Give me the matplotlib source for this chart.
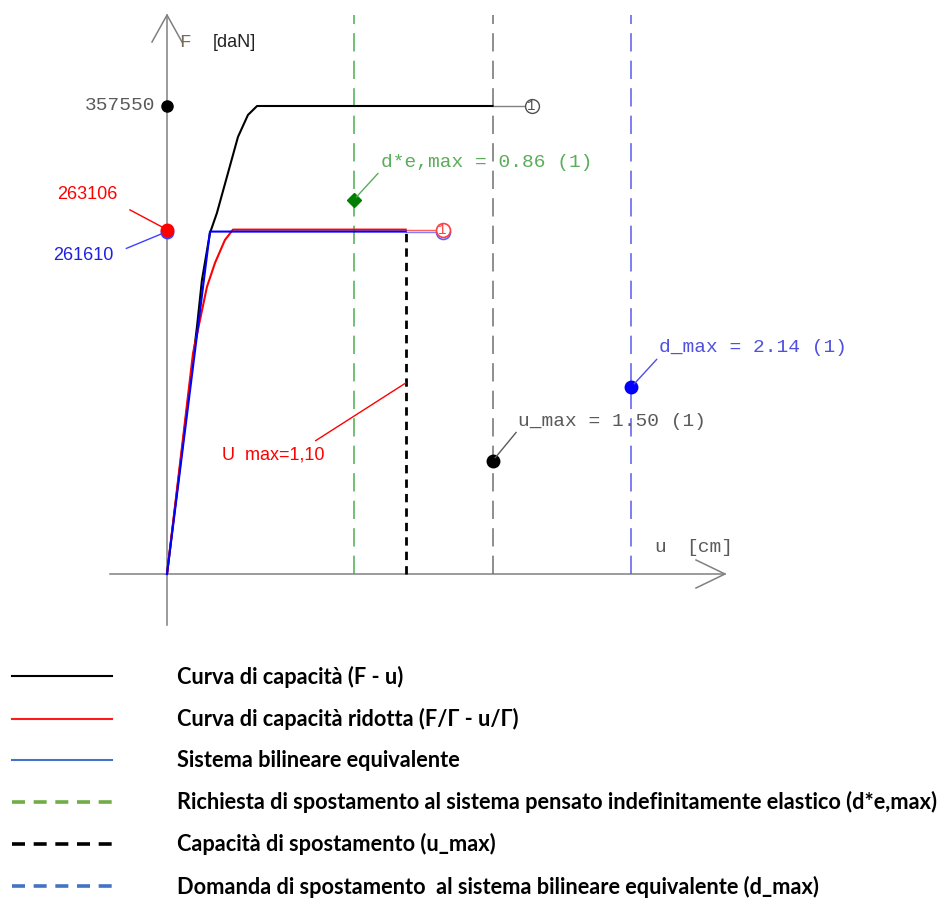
import matplotlib
matplotlib.use("Agg")
import matplotlib.pyplot as plt
from matplotlib.lines import Line2D

# capacity curve (F - u), daN vs cm
u_cap = [0, 0.138, 0.161, 0.198, 0.230, 0.327, 0.373, 0.415, 1.50]
F_cap = [0, 188700, 224600, 260500, 275800, 333900, 350700, 357550, 357550]
u_cap_end = 1.68

# reduced capacity curve (F/G - u/G)
u_red = [0, 0.120, 0.184, 0.221, 0.267, 0.304, 1.10]
F_red = [0, 168800, 219300, 237600, 255200, 263106, 263106]

# equivalent bilinear system
u_bil = [0, 0.198, 1.10]
F_bil = [0, 261610, 261610]
u_red_end = 1.27

# displacement values
d_e_max = 0.86
u_max = 1.50
d_max = 2.14
u_max_red = 1.10

# force values marked on the F axis
F_labels = [357550, 263106, 261610]

# points on the vertical lines
F_de_pt = 285700
F_umax_pt = 86300
F_dmax_pt = 142900
F_umax_red_pt = 145900

legend_labels = [
    "Curva di capacità (F - u)",
    "Curva di capacità ridotta (F/\u0393 - u/\u0393)",
    "Sistema bilineare equivalente",
    "Richiesta di spostamento al sistema pensato indefinitamente elastico (d*e,max)",
    "Capacità di spostamento (u_max)",
    "Domanda di spostamento  al sistema bilineare equivalente (d_max)",
]
legend_colors = ["black", "#ff1a1a", "#4472c4", "#70ad47", "black", "#4472c4"]
legend_styles = ["solid", "solid", "solid", "dashed", "dashed", "dashed"]

W, H = 949, 902
PLOT_H = 640
OX, OY = 167, 574           # origin in pixels
PX_U = 217.0                # pixels per cm
PX_F = 468.0 / 357550       # pixels per daN

MONO = "Liberation Mono"
SANS = "Liberation Sans"
GREY = "#5a5a5a"
GREEN_TXT = "#5aad5a"
BLUE_TXT = "#5050e0"

fig = plt.figure(figsize=(W / 100, H / 100), dpi=100)
ax = fig.add_axes([0, (H - PLOT_H) / H, 1, PLOT_H / H])
ax.set_xlim(-OX / PX_U, (W - OX) / PX_U)
ax.set_ylim(-(PLOT_H - OY) / PX_F, OY / PX_F)
ax.axis("off")

du = 1 / PX_U   # one pixel in u
dF = 1 / PX_F   # one pixel in F

# axes with arrows
ax_col = "#808080"
ax.plot([-57 * du, 558 * du], [0, 0], color=ax_col, lw=1.1)
ax.plot([0, 0], [-51 * dF, 559 * dF], color=ax_col, lw=1.1)
ax.plot([529 * du, 558 * du, 529 * du], [14 * dF, 0, -14 * dF], color=ax_col, lw=1.1)
ax.plot([-15 * du, 0, 15 * du], [532 * dF, 559 * dF, 532 * dF], color=ax_col, lw=1.1)

ax.text(18 * du, 531 * dF, "F", family=MONO, fontsize=14, color="#7a6a5a", ha="center", va="center")
ax.text(46 * du, 531 * dF, "[daN]", family=SANS, fontsize=13, color="#222222", ha="left", va="center")
ax.text(493 * du, 27 * dF, "u", family=MONO, fontsize=14, color=GREY, ha="center", va="center")
ax.text(519 * du, 27 * dF, "[cm]", family=MONO, fontsize=14, color=GREY, ha="left", va="center")

# vertical displacement lines
top = 559 * dF
ax.plot([d_e_max, d_e_max], [0, top], color="#4caf50", lw=1.1, dashes=(12, 6))
ax.plot([u_max, u_max], [0, top], color="#707070", lw=1.1, dashes=(12, 6))
ax.plot([d_max, d_max], [0, top], color="#5a5af0", lw=1.1, dashes=(12, 6))
ax.plot([u_max_red, u_max_red], [0, F_bil[-1]], color="black", lw=2.0, dashes=(3, 2.2))

# curves
ax.plot([u_cap[-1], u_cap_end], [F_cap[-1], F_cap[-1]], color="#808080", lw=1.0)
ax.plot([u_red[-1], u_red_end], [F_red[-1], F_red[-1]], color="#ff6060", lw=1.0)
ax.plot([u_bil[-1], u_red_end], [F_bil[-1], F_bil[-1]], color="#8080ff", lw=1.0)
ax.plot(u_cap, F_cap, color="black", lw=1.5)
ax.plot(u_red, F_red, color="red", lw=1.5)
ax.plot(u_bil, F_bil, color="blue", lw=1.5)

# end circles
ax.plot([u_cap_end], [F_cap[-1]], "o", ms=10, mfc="white", mec="#505050", mew=1.0)
ax.text(u_cap_end, F_cap[-1], "1", family=MONO, fontsize=10, color="#505050", ha="center", va="center")
ax.plot([u_red_end], [F_bil[-1]], "o", ms=10, mfc="none", mec="#6060ff", mew=1.2)
ax.plot([u_red_end], [F_red[-1]], "o", ms=10, mfc="white", mec="#ff4040", mew=1.2)
ax.text(u_red_end, F_red[-1], "1", family=MONO, fontsize=10, color="#ff4040", ha="center", va="center")

# markers on the F axis
ax.plot([0], [F_labels[0]], "o", color="black", ms=8)
ax.plot([0], [F_labels[2]], "o", color="#4040ff", ms=9)
ax.plot([0], [F_labels[1]], "o", color="red", ms=9)

ax.annotate(str(F_labels[0]), xy=(0, F_labels[0]), xytext=(-12, 0), textcoords="offset pixels",
            family=MONO, fontsize=14, color=GREY, ha="right", va="center")
ax.annotate(str(F_labels[1]), xy=(0, F_labels[1]), xytext=(-80, 35), textcoords="offset pixels",
            family=SANS, fontsize=13, color="red", ha="center", va="center",
            arrowprops=dict(arrowstyle="-", color="red", lw=1.0, shrinkA=8, shrinkB=4, relpos=(1, 0)))
ax.annotate(str(F_labels[2]), xy=(0, F_labels[2]), xytext=(-84, -24), textcoords="offset pixels",
            family=SANS, fontsize=13, color="#2020e0", ha="center", va="center",
            arrowprops=dict(arrowstyle="-", color="#4040ff", lw=1.0, shrinkA=8, shrinkB=3, relpos=(1, 0.6)))

# points on the vertical lines
ax.plot([d_e_max], [F_de_pt], "D", color="green", ms=7)
ax.plot([u_max], [F_umax_pt], "o", color="black", ms=9)
ax.plot([d_max], [F_dmax_pt], "o", color="blue", ms=9)

ax.annotate("d*e,max = %.2f (1)" % d_e_max, xy=(d_e_max, F_de_pt), xytext=(27, 38),
            textcoords="offset pixels", family=MONO, fontsize=14, color=GREEN_TXT,
            ha="left", va="center",
            arrowprops=dict(arrowstyle="-", color=GREEN_TXT, lw=1.0, shrinkA=0, shrinkB=3, relpos=(0, 0)))
ax.annotate("u_max = %.2f (1)" % u_max, xy=(u_max, F_umax_pt), xytext=(26, 40),
            textcoords="offset pixels", family=MONO, fontsize=14, color=GREY,
            ha="left", va="center",
            arrowprops=dict(arrowstyle="-", color=GREY, lw=1.0, shrinkA=0, shrinkB=3, relpos=(0, 0)))
ax.annotate("d_max = %.2f (1)" % d_max, xy=(d_max, F_dmax_pt), xytext=(28, 39),
            textcoords="offset pixels", family=MONO, fontsize=14, color=BLUE_TXT,
            ha="left", va="center",
            arrowprops=dict(arrowstyle="-", color=BLUE_TXT, lw=1.0, shrinkA=0, shrinkB=3, relpos=(0, 0)))
ax.annotate("U  max=1,10", xy=(u_max_red, F_umax_red_pt), xytext=(-132, -72),
            textcoords="offset pixels", family=SANS, fontsize=13, color="red",
            ha="center", va="center",
            arrowprops=dict(arrowstyle="-", color="red", lw=1.0, shrinkA=4, shrinkB=0, relpos=(0.82, 1)))

# legend
handles = []
for c, s in zip(legend_colors, legend_styles):
    if s == "solid":
        handles.append(Line2D([], [], color=c, lw=1.5))
    else:
        handles.append(Line2D([], [], color=c, lw=2.6, dashes=(3.6, 2.4)))
fs = 15.7
fs_px = fs * 100 / 72
leg = fig.legend(handles, legend_labels, loc="upper left", bbox_to_anchor=(12 / W, 1 - 666 / H),
                 frameon=False, borderpad=0, borderaxespad=0,
                 handlelength=100 / fs_px, handletextpad=65 / fs_px, labelspacing=0.92,
                 prop=dict(family="Lato", weight="bold", size=fs))

fig.savefig("out.png", dpi=100)
